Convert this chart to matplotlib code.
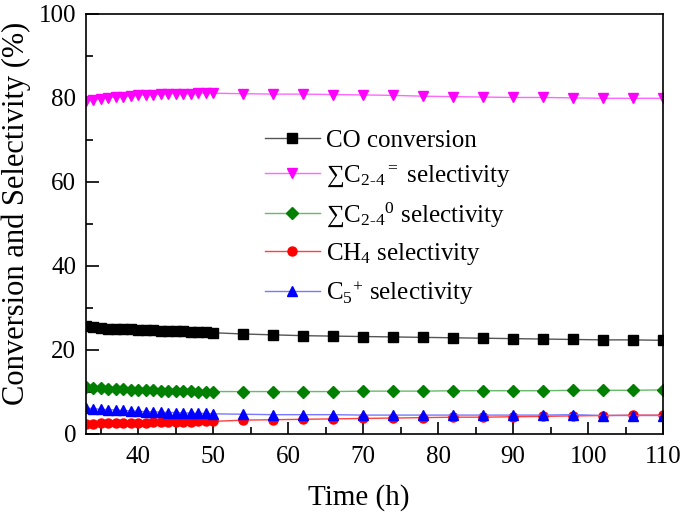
import matplotlib
matplotlib.use("Agg")
import matplotlib.pyplot as plt
from matplotlib.ticker import MultipleLocator

plt.rcParams["font.family"] = ["Liberation Serif", "DejaVu Serif"]
plt.rcParams["mathtext.fontset"] = "custom"
plt.rcParams["mathtext.rm"] = "Liberation Serif"
plt.rcParams["mathtext.it"] = "Liberation Serif:italic"

# --- data ---
time_h = [33, 34, 35, 36, 37, 38, 39, 40, 41, 42, 43, 44, 45, 46, 47, 48, 49, 50,
          54, 58, 62, 66, 70, 74, 78, 82, 86, 90, 94, 98, 102, 106, 110]

co_conv = [25.6, 25.4, 25.2, 25.1, 25.0, 24.9, 24.9, 24.8, 24.7, 24.7, 24.6, 24.5,
           24.5, 24.4, 24.3, 24.3, 24.2, 24.1,
           23.8, 23.6, 23.4, 23.3, 23.2, 23.1, 23.0, 22.9, 22.8, 22.7, 22.6, 22.5,
           22.4, 22.4, 22.3]

c24_olefin = [79.3, 79.5, 79.8, 80.0, 80.2, 80.3, 80.5, 80.6, 80.7, 80.8, 80.9, 81.0,
              81.0, 81.0, 81.0, 81.1, 81.1, 81.1,
              81.0, 80.9, 80.9, 80.8, 80.7, 80.6, 80.4, 80.3, 80.2, 80.1, 80.1, 80.0,
              79.9, 79.9, 79.9]

c24_paraffin = [11.3, 11.0, 10.9, 10.8, 10.7, 10.6, 10.5, 10.5, 10.4, 10.4, 10.3, 10.3,
                10.2, 10.2, 10.2, 10.1, 10.1, 10.1,
                10.1, 10.1, 10.1, 10.1, 10.2, 10.2, 10.2, 10.3, 10.3, 10.3, 10.3, 10.4,
                10.4, 10.4, 10.5]

ch4_sel = [2.4, 2.4, 2.5, 2.5, 2.6, 2.6, 2.7, 2.7, 2.7, 2.8, 2.8, 2.8,
           2.9, 2.9, 2.9, 3.0, 3.0, 3.0,
           3.3, 3.4, 3.5, 3.6, 3.7, 3.8, 3.9, 4.0, 4.0, 4.1, 4.2, 4.3,
           4.4, 4.5, 4.5]

c5_sel = [6.2, 6.0, 5.9, 5.8, 5.7, 5.6, 5.5, 5.4, 5.3, 5.3, 5.2, 5.1,
          5.1, 5.0, 5.0, 4.9, 4.9, 4.8,
          4.7, 4.6, 4.6, 4.6, 4.5, 4.5, 4.5, 4.5, 4.5, 4.5, 4.5, 4.6,
          4.4, 4.4, 4.4]

fig = plt.figure(figsize=(6.85, 5.13), dpi=100)
ax = fig.add_axes([0.1255, 0.154, 0.8425, 0.819])

ax.plot(time_h, co_conv, color="#555555", lw=1, marker="s", ms=6.5,
        mfc="black", mec="black", label="CO conversion")
ax.plot(time_h, c24_olefin, color="#ff66ff", lw=1, marker="v", ms=7.5,
        mfc="#ff00ff", mec="#ff00ff", label=r"∑C$_{2\text{-}4}$$^{=}$ selectivity")
ax.plot(time_h, c24_paraffin, color="#66bb66", lw=1, marker="D", ms=6,
        mfc="#008000", mec="#008000", label=r"∑C$_{2\text{-}4}$$^{0}$ selectivity")
ax.plot(time_h, ch4_sel, color="#ff4040", lw=1, marker="o", ms=6.5,
        mfc="#ff0000", mec="#ff0000", label=r"CH$_{4}$ selectivity")
ax.plot(time_h, c5_sel, color="#7777ff", lw=1, marker="^", ms=7.5,
        mfc="#0000ff", mec="#0000ff", label=r"C$_{5}$$^{+}$ selectivity")

ax.set_xlim(33, 110)
ax.set_ylim(0, 100)
ax.xaxis.set_major_locator(MultipleLocator(10))
ax.xaxis.set_minor_locator(MultipleLocator(5))
ax.yaxis.set_major_locator(MultipleLocator(20))
ax.yaxis.set_minor_locator(MultipleLocator(10))
ax.tick_params(which="major", direction="in", length=9, width=1.2, labelsize=18)
ax.tick_params(axis="x", which="major", pad=9)
ax.tick_params(axis="y", which="major", pad=7)
ax.tick_params(which="minor", direction="in", length=5, width=1.2)
for s in ax.spines.values():
    s.set_linewidth(1.2)

ax.set_xlabel("Time (h)", fontsize=21)
ax.set_ylabel("Conversion and Selectivity (%)", fontsize=22)
ax.xaxis.set_label_coords(0.473, -0.12)
ax.yaxis.set_label_coords(-0.095, 0.525)

ax.legend(loc="upper left", bbox_to_anchor=(0.31, 0.725), frameon=False,
          fontsize=18, handlelength=2.2, labelspacing=0.47, handletextpad=0.25,
          borderpad=0, borderaxespad=0)

fig.savefig("out.png", dpi=100)
